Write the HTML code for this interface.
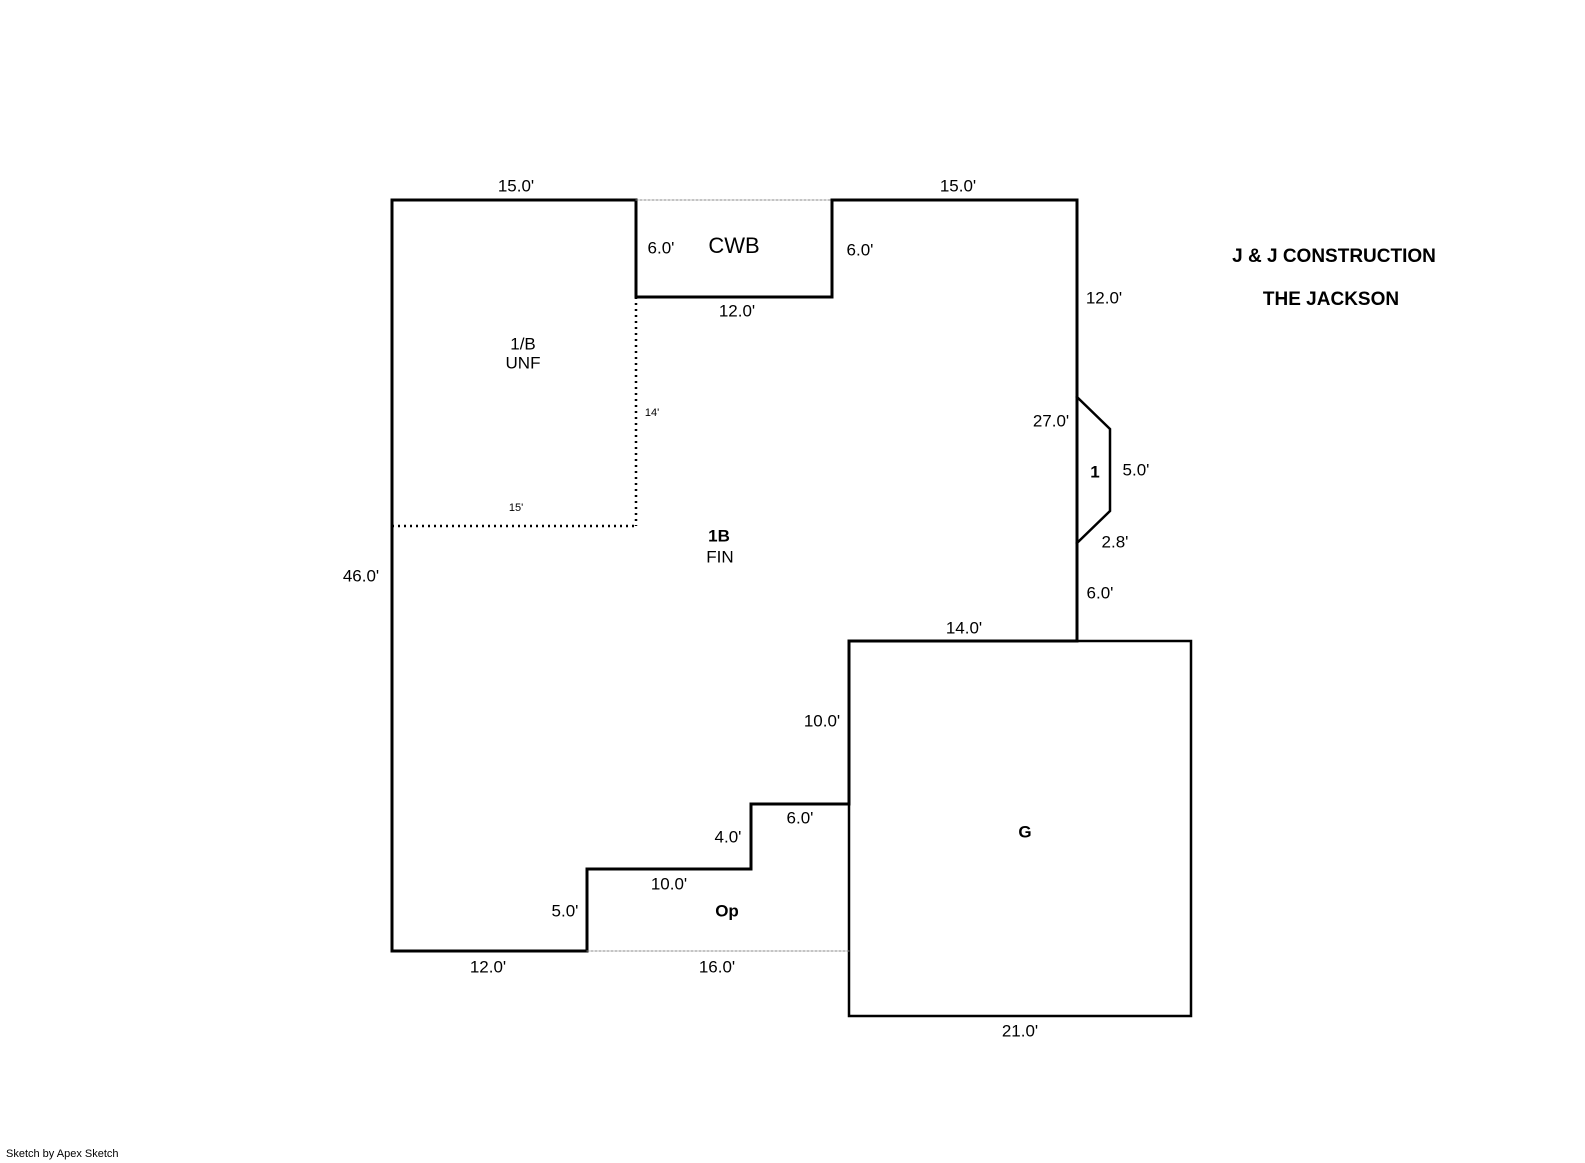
<!DOCTYPE html>
<html><head><meta charset="utf-8"><style>
html,body{margin:0;padding:0;background:#fff;width:1585px;height:1163px;overflow:hidden}
svg text{font-family:"Liberation Sans",Arial,sans-serif;fill:#000}
</style></head><body>
<svg width="1585" height="1163" viewBox="0 0 1585 1163" xmlns="http://www.w3.org/2000/svg">
<g fill="none" stroke="#000" stroke-linecap="square">
<polyline stroke-width="3" points="636,200 392,200 392,951 587,951 587,869 751,869 751,804 849,804 849,641 1077,641 1077,200 832,200 832,297 636,297 636,200"/>
<polyline stroke-width="2.5" points="1077,641 1191,641 1191,1016 849,1016 849,804"/>
<polyline stroke-width="2.5" points="1077,397 1110,429 1110,511 1077,543"/>
<line x1="1077" y1="397" x2="1077" y2="543" stroke-width="3"/>
<line x1="636" y1="200" x2="832" y2="200" stroke="#888" stroke-width="1" stroke-dasharray="2,2"/>
<line x1="587" y1="951" x2="849" y2="951" stroke="#888" stroke-width="1" stroke-dasharray="2,2"/>
<line x1="636" y1="297" x2="636" y2="526" stroke-width="2.5" stroke-dasharray="2,4" stroke-linecap="butt"/>
<line x1="392" y1="526" x2="636" y2="526" stroke-width="2.5" stroke-dasharray="2,4" stroke-linecap="butt"/>
</g>
<g font-size="17" text-anchor="middle" dominant-baseline="middle">
<text x="516" y="187">15.0'</text>
<text x="958" y="187">15.0'</text>
<text x="661" y="249">6.0'</text>
<text x="734" y="247" font-size="22">CWB</text>
<text x="860" y="251">6.0'</text>
<text x="737" y="312">12.0'</text>
<text x="1104" y="299">12.0'</text>
<text x="523" y="345">1/B</text>
<text x="523" y="364">UNF</text>
<text x="652" y="413" font-size="11">14'</text>
<text x="516" y="508" font-size="11">15'</text>
<text x="1051" y="422">27.0'</text>
<text x="1095" y="473" font-weight="bold">1</text>
<text x="1136" y="471">5.0'</text>
<text x="1115" y="543">2.8'</text>
<text x="1100" y="594">6.0'</text>
<text x="964" y="629">14.0'</text>
<text x="719" y="537" font-weight="bold">1B</text>
<text x="720" y="558">FIN</text>
<text x="361" y="577">46.0'</text>
<text x="822" y="722">10.0'</text>
<text x="800" y="819">6.0'</text>
<text x="728" y="838">4.0'</text>
<text x="669" y="885">10.0'</text>
<text x="565" y="912">5.0'</text>
<text x="727" y="912" font-weight="bold">Op</text>
<text x="488" y="968">12.0'</text>
<text x="717" y="968">16.0'</text>
<text x="1025" y="833" font-weight="bold">G</text>
<text x="1020" y="1032">21.0'</text>
<text x="1334" y="257" font-size="19" font-weight="bold">J &amp; J CONSTRUCTION</text>
<text x="1331" y="300" font-size="19" font-weight="bold">THE JACKSON</text>
</g>
<text x="6" y="1157" font-size="11">Sketch by Apex Sketch</text>
</svg>
</body></html>
